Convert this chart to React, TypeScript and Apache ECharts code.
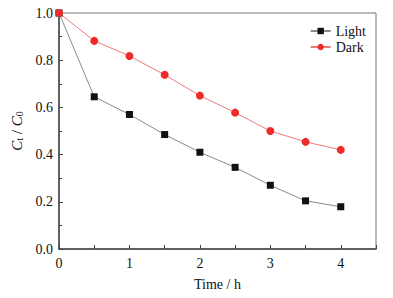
import React, { useEffect, useRef } from "react";
import * as echarts from "echarts";

const times = [0, 0.5, 1, 1.5, 2, 2.5, 3, 3.5, 4];
const lightValues = [1.0, 0.645, 0.57, 0.485, 0.41, 0.346, 0.27, 0.204, 0.179];
const darkValues = [1.0, 0.882, 0.818, 0.738, 0.65, 0.578, 0.5, 0.454, 0.42];
const seriesNames = ["Light", "Dark"];

const FONT = "Liberation Serif";

export default function App() {
  const ref = useRef<HTMLDivElement>(null);
  useEffect(() => {
    document.body.style.margin = "0";
    if (!ref.current) return;
    const chart = echarts.init(ref.current, null, { renderer: "svg" });
    const pair = (vals: number[]) => times.map((t, i) => [t, vals[i]]);
    chart.setOption({
      animation: false,
      backgroundColor: "#ffffff",
      textStyle: { fontFamily: FONT },
      grid: {
        left: 59,
        right: 17,
        top: 13,
        bottom: 49,
        show: true,
        borderColor: "#777",
        borderWidth: 1,
        backgroundColor: "transparent",
      },
      legend: {
        data: seriesNames,
        orient: "vertical",
        right: 22,
        top: 19,
        itemWidth: 20,
        itemHeight: 8,
        itemGap: 2,
        textStyle: { fontFamily: FONT, fontSize: 14, color: "#111" },
      },
      xAxis: {
        type: "value",
        min: 0,
        max: 4.5,
        interval: 0.5,
        name: "Time / h",
        nameLocation: "middle",
        nameGap: 28,
        nameTextStyle: { fontFamily: FONT, fontSize: 14, color: "#111" },
        axisLine: { show: true, onZero: false, lineStyle: { color: "#444", width: 1.5 } },
        axisTick: { show: true, inside: true, length: 4, lineStyle: { color: "#444" } },
        axisLabel: {
          fontFamily: FONT,
          fontSize: 14,
          color: "#111",
          margin: 7,
          formatter: (v: number) => (Number.isInteger(v) && v <= 4 ? String(v) : ""),
        },
        splitLine: { show: false },
      },
      yAxis: {
        type: "value",
        min: 0,
        max: 1.0,
        interval: 0.2,
        name: "{i|C}{s|t}{n| / }{i|C}{s|0}",
        nameLocation: "middle",
        nameGap: 31,
        nameRotate: 90,
        nameTextStyle: {
          rich: {
            i: { fontFamily: FONT, fontStyle: "italic", fontSize: 15, color: "#111" },
            s: { fontFamily: FONT, fontSize: 10, color: "#111", verticalAlign: "bottom", padding: [6, 0, 0, 0] },
            n: { fontFamily: FONT, fontSize: 15, color: "#111" },
          },
        },
        axisLine: { show: true, lineStyle: { color: "#444", width: 1.5 } },
        axisTick: { show: true, inside: true, length: 4, lineStyle: { color: "#444" } },
        minorTick: { show: true, splitNumber: 2, length: 3, lineStyle: { color: "#444" } },
        axisLabel: {
          fontFamily: FONT,
          fontSize: 14,
          color: "#111",
          margin: 6,
          formatter: (v: number) => v.toFixed(1),
        },
        splitLine: { show: false },
      },
      series: [
        {
          name: seriesNames[0],
          type: "line",
          data: pair(lightValues),
          symbol: "rect",
          symbolSize: 7,
          itemStyle: { color: "#111" },
          lineStyle: { color: "#8a8a8a", width: 1 },
        },
        {
          name: seriesNames[1],
          type: "line",
          data: pair(darkValues),
          symbol: "circle",
          symbolSize: 8,
          itemStyle: { color: "#ee2a2a" },
          lineStyle: { color: "#f07a7a", width: 1 },
        },
      ],
    });
    return () => chart.dispose();
  }, []);
  return <div ref={ref} style={{ width: 393, height: 298 }} />;
}
